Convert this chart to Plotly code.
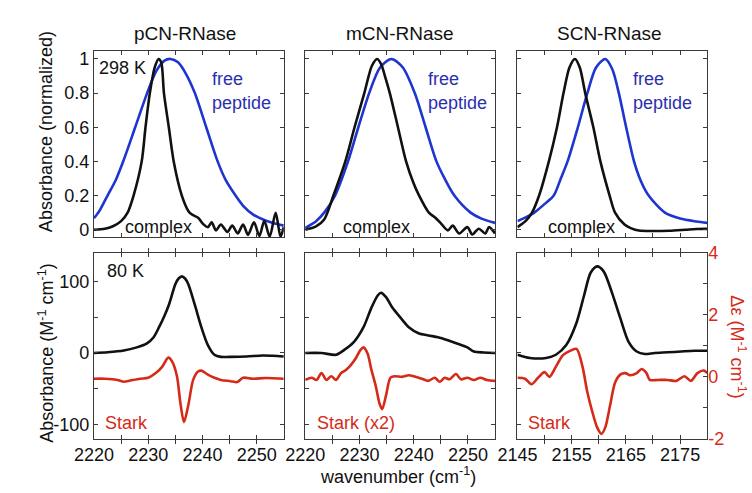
import plotly.graph_objects as go

# ---------------- data ----------------
# Top row: 298 K, normalized absorbance
pcn_free_x = [2220, 2221, 2222.5, 2224, 2225.5, 2227.6, 2229.8, 2231.5, 2233, 2234.1, 2235.5, 2237, 2238.6,
              2240.7, 2242.8, 2244.3, 2246.1, 2247.5, 2249.3, 2251.5, 2253.5, 2255]
pcn_free_y = [0.067, 0.11, 0.2, 0.29, 0.41, 0.6, 0.8, 0.93, 0.99, 1.0, 0.98, 0.91, 0.8,
              0.6, 0.4, 0.29, 0.2, 0.14, 0.09, 0.055, 0.035, 0.024]
pcn_cplx_x = [2220, 2222, 2223.5, 2225, 2226.2, 2227.3, 2228.8, 2229.5, 2230.3, 2231.2, 2231.9, 2232.4, 2232.9,
              2233.8, 2234.7, 2236.2, 2237.4, 2238.0, 2239.2, 2240.1, 2241.0, 2241.7, 2242.5, 2243.4, 2244.6,
              2245.5, 2246.5, 2247.5, 2248.4, 2249.5, 2250.5, 2251.4, 2252.4, 2253.5, 2254.4, 2255]
pcn_cplx_y = [0.0, 0.005, 0.02, 0.05, 0.1, 0.2, 0.4, 0.6, 0.8, 0.95, 1.0, 0.98, 0.8,
              0.6, 0.4, 0.2, 0.11, 0.09, 0.07, 0.034, 0.015, 0.043, -0.004, 0.03, -0.013,
              0.024, -0.022, 0.03, -0.03, 0.043, -0.037, 0.052, -0.041, 0.099, -0.041, 0.015]

mcn_free_x = [2220, 2222, 2223.5, 2225.5, 2227.9, 2229.8, 2231.8, 2233.8, 2235.9, 2238, 2240.2, 2242.2,
              2244.2, 2245.7, 2247.5, 2250.5, 2252.5, 2255]
mcn_free_y = [0.01, 0.05, 0.1, 0.2, 0.4, 0.6, 0.8, 0.95, 1.0, 0.95, 0.8, 0.6,
              0.4, 0.3, 0.2, 0.1, 0.065, 0.04]
mcn_cplx_x = [2220, 2222, 2223.5, 2225.2, 2227.4, 2229.1, 2230.9, 2232.3, 2233.25, 2234.0, 2234.7, 2235.6,
              2237.1, 2238.6, 2240, 2241, 2242.8, 2244, 2245.1, 2246.3, 2247.2, 2248.4, 2249.9, 2250.8,
              2252, 2253.2, 2253.9, 2255]
mcn_cplx_y = [0.0, 0.02, 0.06, 0.2, 0.4, 0.6, 0.8, 0.96, 1.0, 0.97, 0.9, 0.8,
              0.6, 0.4, 0.27, 0.2, 0.1, 0.07, 0.034, -0.004, 0.024, -0.022, 0.015, -0.028,
              0.006, -0.022, 0.015, -0.022]

scn_free_x = [2145, 2146.5, 2148.1, 2150, 2151.7, 2153, 2154.25, 2156.15, 2157.9, 2159.5, 2161.2, 2162.5,
              2163.7, 2165.05, 2166.5, 2167.7, 2169.2, 2172.2, 2175, 2178, 2180]
scn_free_y = [0.05, 0.072, 0.1, 0.15, 0.2, 0.3, 0.4, 0.6, 0.8, 0.95, 1.0, 0.94,
              0.8, 0.6, 0.4, 0.29, 0.2, 0.1, 0.065, 0.048, 0.04]
scn_cplx_x = [2145, 2146.5, 2147.7, 2149, 2150.8, 2152.3, 2153.5, 2154.6, 2155.6, 2156.5, 2157.5, 2159,
              2160.3, 2162, 2163, 2164.75, 2166, 2167.4, 2170, 2173, 2176, 2178, 2180]
scn_cplx_y = [0.015, 0.05, 0.1, 0.2, 0.4, 0.6, 0.8, 0.95, 1.0, 0.95, 0.8, 0.6,
              0.4, 0.2, 0.1, 0.03, 0.008, -0.005, -0.008, -0.006, 0.0, 0.004, 0.005]

# Bottom row: 80 K absorbance (M^-1 cm^-1) and Stark spectra (delta epsilon)
pcn_abs_x = [2220, 2222.5, 2225.5, 2227.9, 2229.7, 2231, 2232, 2233, 2233.8, 2235, 2235.6, 2236.2, 2236.8,
             2237.4, 2238.6, 2239.8, 2241, 2242.2, 2243.4, 2245, 2248.1, 2251.1, 2253, 2255]
pcn_abs_y = [0, 1, 3.4, 7.8, 13, 22, 36, 52, 67, 96, 104, 107, 104,
             96, 67, 36, 11, -2.5, -5.5, -5.5, -5, -3.5, -4, -5]
pcn_stark_x = [2220, 2222, 2224.3, 2225.5, 2226.7, 2228.5, 2230.0, 2231.4, 2232.6, 2233.7, 2234.4, 2235.3,
               2235.9, 2236.6, 2237.4, 2238.3, 2239.2, 2239.8, 2241.0, 2242.2, 2243.4, 2245.2, 2246.4,
               2247.5, 2249.3, 2251.7, 2255]
pcn_stark_y = [-0.06, -0.06, -0.1, -0.16, -0.12, -0.06, -0.03, 0.12, 0.33, 0.62, 0.5, 0.02,
               -0.8, -1.46, -0.91, -0.09, 0.17, 0.2, 0.07, -0.03, -0.1, -0.14, -0.17,
               -0.03, -0.06, -0.04, -0.06]

mcn_abs_x = [2220, 2223, 2225.7, 2227.2, 2229, 2230.75, 2232.2, 2233.4, 2234, 2234.9, 2236.1, 2237.6,
             2239.1, 2240.9, 2242.7, 2244.5, 2246.3, 2248.1, 2249.9, 2251.1, 2252.9, 2255]
mcn_abs_y = [0, 0, -2.5, 4.3, 15.5, 36, 63, 80.6, 84, 78, 63, 49,
             36, 27.6, 24.5, 22, 17.8, 13, 7.8, 2, 0.7, 0]
mcn_stark_x = [2220, 2221.2, 2222.1, 2223, 2223.9, 2224.8, 2225.7, 2226.6, 2227.5, 2228.4, 2229.3, 2230.2,
               2230.75, 2231.5, 2232.2, 2233.0, 2233.7, 2234.2, 2234.9, 2235.7, 2236.4, 2237.9, 2239.1,
               2240.3, 2241.5, 2242.7, 2243.9, 2244.8, 2245.7, 2246.6, 2247.8, 2248.7, 2249.9, 2251.1,
               2252.3, 2253.5, 2255]
mcn_stark_y = [-0.1, -0.03, -0.1, 0.12, -0.1, 0.02, -0.1, 0.12, 0.22, 0.38, 0.59, 0.87,
               0.95, 0.75, 0.23, -0.29, -0.86, -1.04, -0.6, -0.03, 0.02, 0.0, 0.05,
               0.0, -0.06, -0.13, -0.03, -0.16, -0.03, -0.08, 0.09, -0.08, -0.03, -0.1,
               -0.03, -0.1, -0.13]

scn_abs_x = [2145, 2147.3, 2150.3, 2152.1, 2154, 2155.8, 2157.3, 2158.5, 2159.7, 2160.9, 2162.4, 2163.96,
             2165.5, 2167, 2168.5, 2170.3, 2172.7, 2175.2, 2177.6, 2180]
scn_abs_y = [-2.5, -7, -7, -2.5, 11, 40, 80.6, 112, 121, 114, 85, 49,
             15.5, 2, -1.4, 0, 0.9, 2, 3, 3]
scn_stark_x = [2145, 2146.4, 2147.6, 2148.8, 2150, 2150.9, 2152.1, 2153.4, 2154.6, 2155.9, 2157, 2157.9,
               2158.8, 2159.7, 2160.5, 2161.2, 2162.1, 2163, 2163.96, 2164.9, 2165.8, 2167, 2167.9,
               2168.8, 2169.4, 2170.9, 2172.7, 2174.3, 2175.8, 2177, 2178.2, 2179.4, 2180]
scn_stark_y = [-0.03, -0.06, -0.24, -0.03, 0.15, 0.0, 0.33, 0.7, 0.83, 0.9, 0.33, -0.5,
               -1.12, -1.63, -1.84, -1.63, -0.91, -0.19, 0.07, 0.12, 0.05, 0.12, 0.25,
               0.12, -0.1, -0.1, -0.1, -0.13, 0.02, -0.13, 0.12, 0.2, 0.12]

panel_titles = ["pCN-RNase", "mCN-RNase", "SCN-RNase"]
stark_labels = ["Stark", "Stark (x2)", "Stark"]

xtick_a = [2220, 2225, 2230, 2235, 2240, 2245, 2250, 2255]
xtext_a = ["2220", "", "2230", "", "2240", "", "2250", ""]
xtick_b = [2145, 2150, 2155, 2160, 2165, 2170, 2175, 2180]
xtext_b = ["2145", "", "2155", "", "2165", "", "2175", ""]
ytick_top = [0, 0.2, 0.4, 0.6, 0.8, 1]
ytext_top = ["0", "0.2", "0.4", "0.6", "0.8", "1"]
ytick_bot = [-100, -50, 0, 50, 100]
ytext_bot = ["-100", "", "0", "", "100"]
ytick_de = [-2, -1, 0, 1, 2, 3, 4]
ytext_de = ["-2", "", "0", "", "2", "", "4"]

# ---------------- layout helpers ----------------
W, H = 752, 493
FONT = "Liberation Sans, Arial, Helvetica, sans-serif"
BLUE = "#1f35d0"
BLUE_TXT = "#2b2fae"
RED = "#d62a18"
BLACK = "#111111"
FRAME = "#3a3a3a"


def fx(p):
    return p / W


def fy(p):
    return 1 - p / H


cols = [(76, 271), (293, 488), (511, 706)]
rows = [(43, 237), (253, 447)]

fig = go.Figure()

top_sets = [(pcn_free_x, pcn_free_y, pcn_cplx_x, pcn_cplx_y),
            (mcn_free_x, mcn_free_y, mcn_cplx_x, mcn_cplx_y),
            (scn_free_x, scn_free_y, scn_cplx_x, scn_cplx_y)]
bot_sets = [(pcn_abs_x, pcn_abs_y, pcn_stark_x, pcn_stark_y),
            (mcn_abs_x, mcn_abs_y, mcn_stark_x, mcn_stark_y),
            (scn_abs_x, scn_abs_y, scn_stark_x, scn_stark_y)]

LW = 2.6
for i in range(3):
    k = i + 1
    fxs, fys, cxs, cys = top_sets[i]
    fig.add_trace(go.Scatter(x=fxs, y=fys, mode="lines", line=dict(color=BLUE, width=LW, shape="spline", smoothing=0.8),
                             xaxis=f"x{k}", yaxis=f"y{k}", showlegend=False, hoverinfo="skip"))
    fig.add_trace(go.Scatter(x=cxs, y=cys, mode="lines", line=dict(color=BLACK, width=LW, shape="spline", smoothing=0.8),
                             xaxis=f"x{k}", yaxis=f"y{k}", showlegend=False, hoverinfo="skip"))
    kb = i + 4
    kd = i + 7
    axs, ays, sxs, sys_ = bot_sets[i]
    fig.add_trace(go.Scatter(x=axs, y=ays, mode="lines", line=dict(color=BLACK, width=LW, shape="spline", smoothing=0.8),
                             xaxis=f"x{kb}", yaxis=f"y{kb}", showlegend=False, hoverinfo="skip"))
    fig.add_trace(go.Scatter(x=sxs, y=sys_, mode="lines", line=dict(color=RED, width=LW, shape="spline", smoothing=0.8),
                             xaxis=f"x{kb}", yaxis=f"y{kd}", showlegend=False, hoverinfo="skip"))

axis_common = dict(showgrid=False, zeroline=False, showline=True, linecolor=FRAME, linewidth=1,
                   ticks="inside", ticklen=4, tickwidth=1, tickcolor=FRAME,
                   tickfont=dict(family=FONT, size=18, color="#111"))
layout = {}
for i, (x0, x1) in enumerate(cols):
    xr = [2220, 2255] if i < 2 else [2145, 2180]
    tv = xtick_a if i < 2 else xtick_b
    tt = xtext_a if i < 2 else xtext_b
    for r, (y0, y1) in enumerate(rows):
        k = i + 1 + 3 * r
        layout[f"xaxis{k}"] = dict(axis_common, domain=[fx(x0), fx(x1)], range=xr, anchor=f"y{k}",
                                   tickvals=tv, ticktext=tt, showticklabels=(r == 1), mirror="allticks")
        if r == 0:
            yd = dict(range=[-0.045, 1.045], tickvals=ytick_top, ticktext=ytext_top)
        else:
            yd = dict(range=[-120, 140], tickvals=ytick_bot, ticktext=ytext_bot)
        layout[f"yaxis{k}"] = dict(axis_common, domain=[fy(y1), fy(y0)], anchor=f"x{k}",
                                   showticklabels=(i == 0),
                                   mirror=("allticks" if not (r == 1 and i == 2) else True), **yd)
    kd = i + 7
    if i < 2:
        layout[f"yaxis{kd}"] = dict(range=[-2, 4], overlaying=f"y{i + 4}", visible=False)
    else:
        layout[f"yaxis{kd}"] = dict(range=[-2, 4], overlaying=f"y{i + 4}", side="right", anchor=f"x{i + 4}",
                                    showgrid=False, zeroline=False, showline=False,
                                    ticks="inside", ticklen=4, tickwidth=1, tickcolor=FRAME,
                                    tickvals=ytick_de, ticktext=ytext_de,
                                    tickfont=dict(family=FONT, size=18, color=RED))

ann = []


def add_text(text, x, y, color="#111", size=18, xanchor="center", angle=0):
    ann.append(dict(text=text, x=fx(x), y=fy(y), xref="paper", yref="paper", showarrow=False,
                    xanchor=xanchor, yanchor="middle", textangle=angle,
                    font=dict(family=FONT, size=size, color=color)))


for t, cx in zip(panel_titles, [170, 390, 606]):
    add_text(t, cx, 25, size=19)
add_text("298 K", 79, 60, xanchor="left")
for lx in [195, 417, 628]:
    add_text("free", lx, 72, color=BLUE_TXT, xanchor="left")
    add_text("peptide", lx, 97, color=BLUE_TXT, xanchor="left")
for cx in [142, 366, 577]:
    add_text("complex", cx, 226)
add_text("80 K", 87, 272, xanchor="left")
for s, lx in zip(stark_labels, [85, 303, 520]):
    add_text(s, lx, 430, color=RED, xanchor="left")
add_text("Absorbance (normalized)", 27, 127, angle=-90)
add_text("Absorbance (M<sup>-1</sup> cm<sup>-1</sup>)", 27, 358, angle=-90)
add_text("\u0394\u03b5 (M<sup>-1</sup> cm<sup>-1</sup>)", 737, 351, color=RED, angle=90)
add_text("wavenumber (cm<sup>-1</sup>)", 388, 485)

fig.update_layout(width=W, height=H, margin=dict(l=0, r=0, t=0, b=0), paper_bgcolor="white",
                  plot_bgcolor="white", annotations=ann, font=dict(family=FONT), **layout)

fig.write_html("out.html", config={"displayModeBar": False},
               post_script="document.body.style.margin='0px';")
